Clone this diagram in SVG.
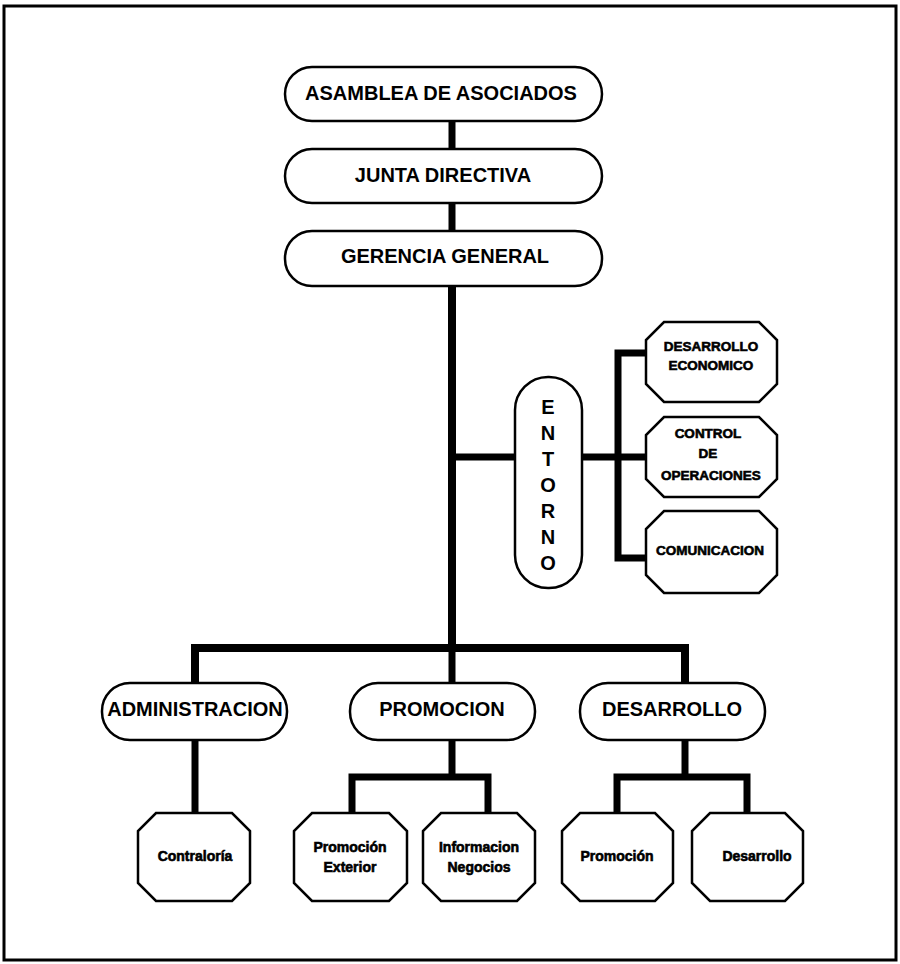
<svg xmlns="http://www.w3.org/2000/svg" width="900" height="964" viewBox="0 0 900 964">
<style>
.frame{fill:none;stroke:#000;stroke-width:3}
.pill{fill:#fff;stroke:#000;stroke-width:2.5}
.oct{fill:#fff;stroke:#000;stroke-width:2.5;stroke-linejoin:miter}
.con{fill:none;stroke:#000;stroke-width:7;stroke-linecap:butt;stroke-linejoin:miter}
.big{font-family:"Liberation Sans",Arial,sans-serif;font-weight:bold;font-size:20px;fill:#000;text-anchor:middle}
.sm{font-family:"Liberation Sans",Arial,sans-serif;font-weight:900;font-size:13.5px;fill:#000;stroke:#000;stroke-width:0.6;text-anchor:middle}
.lc{font-family:"Liberation Sans",Arial,sans-serif;font-weight:900;font-size:14px;fill:#000;stroke:#000;stroke-width:0.6;text-anchor:middle}
</style>
<rect class="frame" x="4" y="6" width="892" height="954"/>
<g id="connectors">
<path class="con" d="M452,121 V149"/>
<path class="con" d="M452,203 V231"/>
<path class="con" d="M452,286 V648" style="stroke-width:8"/>
<path class="con" d="M452,457 H515"/>
<path class="con" d="M582,457 H646"/>
<path class="con" d="M646,353 H618 V558 H646"/>
<path class="con" d="M195,683 V648 H685 V683" style="stroke-width:8"/>
<path class="con" d="M452,648 V683"/>
<path class="con" d="M195,740 V813"/>
<path class="con" d="M452,740 V777"/>
<path class="con" d="M352,813 V777 H488 V813"/>
<path class="con" d="M685,740 V777"/>
<path class="con" d="M617,813 V777 H747 V813"/>
</g>
<g id="asamblea">
<rect class="pill" x="285" y="67" width="317" height="54" rx="27"/>
<text class="big" x="441" y="100">ASAMBLEA DE ASOCIADOS</text>
</g>
<g id="junta">
<rect class="pill" x="285" y="149" width="317" height="54" rx="27"/>
<text class="big" x="443" y="182">JUNTA DIRECTIVA</text>
</g>
<g id="gerencia">
<rect class="pill" x="285" y="231" width="317" height="55" rx="27"/>
<text class="big" x="445" y="263">GERENCIA GENERAL</text>
</g>
<g id="entorno">
<rect class="pill" x="515" y="377" width="67" height="211" rx="33"/>
<text class="big" x="548" y="414">E</text>
<text class="big" x="548" y="440">N</text>
<text class="big" x="548" y="466">T</text>
<text class="big" x="548" y="492">O</text>
<text class="big" x="548" y="518">R</text>
<text class="big" x="548" y="544">N</text>
<text class="big" x="548" y="570">O</text>
</g>
<g id="desarrollo-economico">
<polygon class="oct" points="664,322 759,322 777,340 777,384 759,402 664,402 646,384 646,340"/>
<text class="sm" x="711" y="351">DESARROLLO</text>
<text class="sm" x="711" y="370">ECONOMICO</text>
</g>
<g id="control-operaciones">
<polygon class="oct" points="664,417 759,417 777,435 777,479 759,497 664,497 646,479 646,435"/>
<text class="sm" x="708" y="438">CONTROL</text>
<text class="sm" x="708" y="458">DE</text>
<text class="sm" x="711" y="480">OPERACIONES</text>
</g>
<g id="comunicacion">
<polygon class="oct" points="664,511 759,511 777,529 777,575 759,593 664,593 646,575 646,529"/>
<text class="sm" x="710" y="555">COMUNICACION</text>
</g>
<g id="administracion">
<rect class="pill" x="102" y="683" width="185" height="57" rx="28"/>
<text class="big" x="195" y="716">ADMINISTRACION</text>
</g>
<g id="promocion">
<rect class="pill" x="350" y="683" width="185" height="57" rx="28"/>
<text class="big" x="442" y="716">PROMOCION</text>
</g>
<g id="desarrollo">
<rect class="pill" x="580" y="683" width="185" height="57" rx="28"/>
<text class="big" x="672" y="716">DESARROLLO</text>
</g>
<g id="contraloria">
<polygon class="oct" points="156,813 232,813 250,831 250,883 232,901 156,901 138,883 138,831"/>
<text class="lc" x="195" y="861">Contraloría</text>
</g>
<g id="promocion-exterior">
<polygon class="oct" points="312,813 389,813 407,831 407,883 389,901 312,901 294,883 294,831"/>
<text class="lc" x="350" y="852">Promoción</text>
<text class="lc" x="350" y="872">Exterior</text>
</g>
<g id="informacion-negocios">
<polygon class="oct" points="441,813 517,813 535,831 535,883 517,901 441,901 423,883 423,831"/>
<text class="lc" x="479" y="852">Informacion</text>
<text class="lc" x="479" y="872">Negocios</text>
</g>
<g id="promocion-des">
<polygon class="oct" points="580,813 655,813 673,831 673,883 655,901 580,901 562,883 562,831"/>
<text class="lc" x="617" y="861">Promoción</text>
</g>
<g id="desarrollo-des">
<polygon class="oct" points="710,813 785,813 803,831 803,883 785,901 710,901 692,883 692,831"/>
<text class="lc" x="757" y="861">Desarrollo</text>
</g>
</svg>
